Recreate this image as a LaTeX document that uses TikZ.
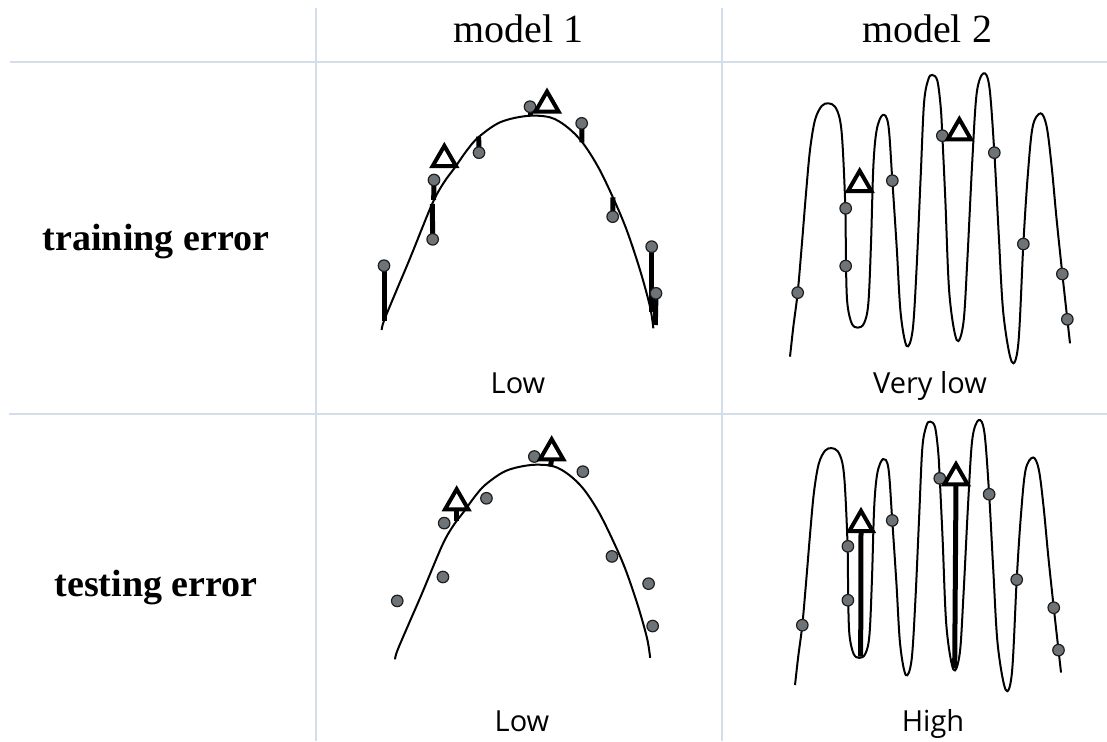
\documentclass[tikz,border=0pt]{standalone}
\usepackage{fontspec}
\usetikzlibrary{shapes.geometric}
\newfontfamily\hdfont{Liberation Serif}
\newfontfamily\lbfont{Open Sans}
\definecolor{gridc}{HTML}{D3DEEA}
\definecolor{dotfill}{HTML}{6E7378}
\definecolor{dotline}{HTML}{1E1E1E}
\pgfdeclarelayer{bg}
\pgfsetlayers{bg,main}
\tikzset{
 gridline/.style={gridc, line width=1.8pt},
 fitcurve/.style={black, line width=2pt, smooth, tension=0.55},
 datadot/.style={circle, draw=dotline, fill=dotfill, line width=1.2pt, minimum size=11.5pt, inner sep=0pt},
 testtri/.style={regular polygon, regular polygon sides=3, draw=black, fill=white, line width=4pt, minimum size=27pt, inner sep=0pt, outer sep=0pt},
 errbar/.style={line width=5pt, black},
 head/.style={font=\hdfont\fontsize{40}{40}\selectfont, anchor=base, inner sep=0pt},
 rowlab/.style={font=\hdfont\bfseries\fontsize{38}{38}\selectfont, anchor=base, inner sep=0pt},
 sublab/.style={font=\lbfont\fontsize{29}{29}\selectfont, anchor=base, inner sep=0pt},
}
\begin{document}
\begin{tikzpicture}[x=1pt,y=-1pt]
\useasboundingbox (0,0) rectangle (1107,741);
% grid
\draw[gridline] (10,62) -- (1107,62);
\draw[gridline] (9,414) -- (1107,414);
\draw[gridline] (316,8) -- (316,741);
\draw[gridline] (722,8) -- (722,741);
% texts
\node[head] (h1) at (518.5,42.3) {model 1};
\node[head] (h2) at (927,42.3) {model 2};
\node[rowlab] (r1) at (156,250) {training error};
\node[rowlab] (r2) at (156,596) {testing error};
\node[sublab] (s1) at (518,393) {Low};
\node[sublab] (s2) at (930,393) {Very low};
\node[sublab] (s3) at (522,731) {Low};
\node[sublab] (s4) at (933,731) {High};

% ---------- panel 1: model 1 training ----------
\begin{scope}[shift={(360,80)}, scale=1/3]
\draw[fitcurve] plot coordinates {(65,750) (72,722) (110,630) (150,535) (215,375) (250,310) (285,262) (320,212) (355,172) (420,127) (500,108) (570,112) (620,140) (667,187) (715,262) (760,355) (800,450) (840,570) (870,680) (880,745)};
\coordinate (a1) at (72,724);
\coordinate (a2) at (221,360);
\coordinate (a3) at (217,372);
\coordinate (a4) at (356,170);
\coordinate (a5) at (510,108);
\coordinate (a6) at (666,187);
\coordinate (a7) at (759,352);
\coordinate (a8) at (875,695);
\coordinate (a9) at (886,735);
\node[datadot] (d1) at (72,557) {};
\node[datadot] (d2) at (222,300) {};
\node[datadot] (d3) at (218,478) {};
\node[datadot] (d4) at (357,218) {};
\node[datadot] (d5) at (510,80) {};
\node[datadot] (d6) at (665,130) {};
\node[datadot] (d7) at (758,410) {};
\node[datadot] (d8) at (875,500) {};
\node[datadot] (d9) at (888,640) {};
\node[testtri] (t1) at (253,238) {};
\node[testtri] (t2) at (561,75) {};
\begin{pgfonlayer}{bg}
\foreach \i in {1,...,9} {\draw[errbar] (d\i.center) -- (a\i);}
\end{pgfonlayer}
\end{scope}

% ---------- panel 2: model 2 training ----------
\begin{scope}[shift={(760,60)}, scale=1/3]
\draw[fitcurve] plot coordinates {(90,890) (100,800) (113,698) (125,560) (138,400) (150,270) (165,180) (185,138) (205,130) (225,140) (240,180) (248,260) (256,445) (258,618) (262,730) (275,790) (293,803) (312,790) (325,730) (333,550) (340,320) (350,210) (368,165) (385,195) (397,362) (410,560) (422,760) (440,858) (458,810) (470,620) (482,350) (492,130) (505,58) (517,45) (532,62) (542,140) (547,227) (556,420) (568,700) (590,840) (610,790) (622,600) (637,300) (650,100) (670,40) (688,80) (703,278) (716,520) (730,760) (755,905) (775,850) (790,552) (803,350) (818,200) (842,160) (860,200) (875,320) (890,480) (907,642) (922,778) (930,850)};
\node[datadot] (e1) at (113,698) {};
\node[datadot] (e2) at (257,445) {};
\node[datadot] (e3) at (257,618) {};
\node[datadot] (e4) at (397,362) {};
\node[datadot] (e5) at (547,227) {};
\node[datadot] (e6) at (703,278) {};
\node[datadot] (e7) at (790,552) {};
\node[datadot] (e8) at (907,642) {};
\node[datadot] (e9) at (922,778) {};
\node[testtri] (u1) at (299,373) {};
\node[testtri] (u2) at (598,218) {};
\end{scope}

% ---------- panel 3: model 1 testing ----------
\begin{scope}[shift={(374.7,432.3)}, xscale=0.313, yscale=0.3027]
\draw[fitcurve] plot coordinates {(65,750) (72,722) (110,630) (150,535) (215,375) (250,310) (285,262) (320,212) (355,172) (420,127) (500,108) (570,112) (620,140) (667,187) (715,262) (760,355) (800,450) (840,570) (870,680) (880,745)};
\node[datadot] (f1) at (72,557) {};
\node[datadot] (f2) at (222,300) {};
\node[datadot] (f3) at (218,478) {};
\node[datadot] (f4) at (357,218) {};
\node[datadot] (f5) at (510,80) {};
\node[datadot] (f6) at (665,130) {};
\node[datadot] (f7) at (758,410) {};
\node[datadot] (f8) at (875,500) {};
\node[datadot] (f9) at (888,640) {};
\end{scope}
\begin{scope}[shift={(360,420)}, scale=1/3]
\coordinate (b1) at (290,302);
\coordinate (b2) at (571,140);
\node[testtri] (v1) at (290,248) {};
\node[testtri] (v2) at (575,98) {};
\begin{pgfonlayer}{bg}
\draw[errbar] (v1.south) -- (b1);
\draw[errbar] (v2.south) -- (b2);
\end{pgfonlayer}
\end{scope}

% ---------- panel 4: model 2 testing ----------
\begin{scope}[shift={(766.5,407.6)}, xscale=0.3167, yscale=0.3117]
\draw[fitcurve] plot coordinates {(90,890) (100,800) (113,698) (125,560) (138,400) (150,270) (165,180) (185,138) (205,130) (225,140) (240,180) (248,260) (256,445) (258,618) (262,730) (275,790) (293,803) (312,790) (325,730) (333,550) (340,320) (350,210) (368,165) (385,195) (397,362) (410,560) (422,760) (440,858) (458,810) (470,620) (482,350) (492,130) (505,58) (517,45) (532,62) (542,140) (547,227) (556,420) (568,700) (590,840) (610,790) (622,600) (637,300) (650,100) (670,40) (688,80) (703,278) (716,520) (730,760) (755,905) (775,850) (790,552) (803,350) (818,200) (842,160) (860,200) (875,320) (890,480) (907,642) (922,778) (930,850)};
\node[datadot] (g1) at (113,698) {};
\node[datadot] (g2) at (257,445) {};
\node[datadot] (g3) at (257,618) {};
\node[datadot] (g4) at (397,362) {};
\node[datadot] (g5) at (547,227) {};
\node[datadot] (g6) at (703,278) {};
\node[datadot] (g7) at (790,552) {};
\node[datadot] (g8) at (907,642) {};
\node[datadot] (g9) at (922,778) {};
\end{scope}
\begin{scope}[shift={(760,400)}, scale=1/3]
\coordinate (c1) at (302,770);
\coordinate (c2) at (584,805);
\node[testtri] (w1) at (303,373) {};
\node[testtri] (w2) at (588,233) {};
\begin{pgfonlayer}{bg}
\draw[errbar] (w1.south) -- (c1);
\draw[errbar] (w2.south) -- (c2);
\end{pgfonlayer}
\end{scope}
\end{tikzpicture}
\end{document}
